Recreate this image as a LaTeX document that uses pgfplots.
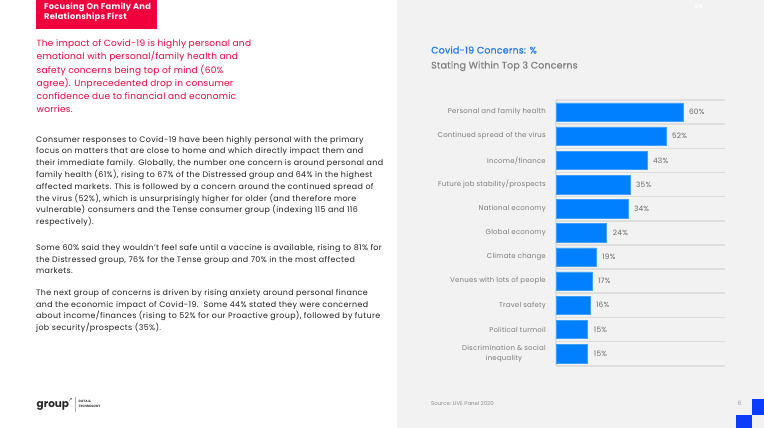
\documentclass[border=0pt]{standalone}
\usepackage{pgfplots}
\pgfplotsset{compat=1.18}
\usepackage{fontspec}
\setmainfont{Poppins}
\newfontfamily\pmed{Poppins}[FakeBold=0.5, LetterSpace=2]
\newfontfamily\redfont{Poppins}[LetterSpace=3]
\newfontfamily\bodyfont{Poppins}[LetterSpace=4.5]
\newfontfamily\lblfont{Poppins}[LetterSpace=3]
\newfontfamily\tagfont{Poppins}[LetterSpace=3]
\newfontfamily\symfont{DejaVu Sans}
\definecolor{crim}{RGB}{240,0,60}
\definecolor{barblue}{RGB}{0,128,255}
\definecolor{titleblue}{RGB}{31,120,240}
\definecolor{panel}{RGB}{242,242,242}
\definecolor{gridc}{RGB}{222,222,222}
\definecolor{lblgrey}{RGB}{125,125,125}
\definecolor{valgrey}{RGB}{105,105,105}
\definecolor{bodytxt}{RGB}{30,30,30}
\definecolor{logoblue}{RGB}{10,60,255}

\begin{document}
\begin{tikzpicture}
\path[use as bounding box, fill=white] (0,0) rectangle (764bp,428bp);
\fill[panel] (397bp,0) rectangle (764bp,428bp);

\begin{scope}[yshift=428bp]
  % header tag
  \fill[crim] (36bp,0) rectangle (157bp,-29bp);
  \node[anchor=base west, inner sep=0, text=white, font=\tagfont\fontsize{8.3}{10}\selectfont\bfseries] at (44bp,-10bp) {Focusing On Family And};
  \node[anchor=base west, inner sep=0, text=white, font=\tagfont\fontsize{8.3}{10}\selectfont\bfseries] at (44bp,-20bp) {Relationships First};

  % intro (red)
  \node[anchor=north west, inner sep=0, align=left, text=crim, font=\redfont\fontsize{9}{13.3}\selectfont] at (36.5bp,-39.6bp)
    {The impact of Covid-19 is highly personal and\\
     emotional with personal/family health and\\
     safety concerns being top of mind (60\%\\
     agree). Unprecedented drop in consumer\\
     confidence due to financial and economic\\
     worries.};

  % body text
  \node[anchor=north west, inner sep=0, align=left, text=bodytxt, font=\bodyfont\fontsize{7.95}{11.8}\selectfont] at (36bp,-136bp)
    {Consumer responses to Covid-19 have been highly personal with the primary\\
     focus on matters that are close to home and which directly impact them and\\
     their immediate family. Globally, the number one concern is around personal and\\
     family health (61\%), rising to 67\% of the Distressed group and 64\% in the highest\\
     affected markets. This is followed by a concern around the continued spread of\\
     the virus (52\%), which is unsurprisingly higher for older (and therefore more\\
     vulnerable) consumers and the Tense consumer group (indexing 115 and 116\\
     respectively).};
  \node[anchor=north west, inner sep=0, align=left, text=bodytxt, font=\bodyfont\fontsize{7.95}{11.8}\selectfont] at (36bp,-244bp)
    {Some 60\% said they wouldn’t feel safe until a vaccine is available, rising to 81\% for\\
     the Distressed group, 76\% for the Tense group and 70\% in the most affected\\
     markets.};
  \node[anchor=north west, inner sep=0, align=left, text=bodytxt, font=\bodyfont\fontsize{7.95}{11.8}\selectfont] at (36bp,-289bp)
    {The next group of concerns is driven by rising anxiety around personal finance\\
     and the economic impact of Covid-19.\ \ Some 44\% stated they were concerned\\
     about income/finances (rising to 52\% for our Proactive group), followed by future\\
     job security/prospects (35\%).};

  % chart titles
  \node[anchor=base west, inner sep=0, text=titleblue, font=\pmed\fontsize{9.5}{10}\selectfont] at (431bp,-53.5bp) {Covid-19 Concerns: \%};
  \node[anchor=base west, inner sep=0, text=black!50, font=\pmed\fontsize{9.5}{10}\selectfont] at (431bp,-68.5bp) {Stating Within Top 3 Concerns};

  % top right tag
  \node[inner sep=0, text=white, font=\fontsize{5.5}{6}\selectfont\bfseries] at (699bp,-7bp) {UK};

  % footer
  \node[anchor=base west, inner sep=0, text=black!85, font=\fontsize{10.5}{12}\selectfont\bfseries] at (36.5bp,-407bp) {group};
  \node[inner sep=0, text=black!85, font=\symfont\fontsize{5}{5}\selectfont] at (70.5bp,-400.5bp) {↗};
  \draw[black!30, line width=0.4bp] (75.5bp,-397bp) -- (75.5bp,-412bp);
  \node[anchor=base west, inner sep=0, text=black!80, font=\fontsize{3.2}{4}\selectfont\bfseries] at (78.5bp,-402.5bp) {DATA \&};
  \node[anchor=base west, inner sep=0, text=black!80, font=\fontsize{3.2}{4}\selectfont\bfseries] at (78.5bp,-407bp) {TECHNOLOGY};
  \node[anchor=base west, inner sep=0, text=black!45, font=\fontsize{5.4}{6}\selectfont] at (431bp,-405bp) {Source: LIVE Panel 2020};
  \node[anchor=base west, inner sep=0, text=black!40, font=\fontsize{6}{6}\selectfont] at (737.5bp,-405.5bp) {6};
  \fill[logoblue] (752bp,-399bp) rectangle (764bp,-415bp);
  \fill[logoblue] (736bp,-415bp) rectangle (752bp,-428bp);
\end{scope}

\begin{axis}[
  at={(556bp,62.3bp)}, anchor=south west,
  scale only axis, width=169bp, height=265.7bp,
  xbar, bar width=18.5bp,
  xmin=0, xmax=80,
  ymin=-0.5, ymax=10.5, y dir=reverse,
  axis x line=none,
  axis y line*=left,
  y axis line style={draw=gridc, line width=1.6bp, -},
  ytick={0,...,10},
  yticklabels={Personal and family health, Continued spread of the virus, Income/finance, Future job stability/prospects, National economy, Global economy, Climate change, Venues with lots of people, Travel safety, Political turmoil, {Discrimination \& social\\inequality}},
  major tick length=0pt,
  yticklabel style={font=\lblfont\fontsize{7}{10.6}\selectfont, text=lblgrey, align=center, inner sep=0pt, xshift=-10bp},
  extra y ticks={-0.5,0.5,...,10.5},
  extra y tick labels={},
  extra y tick style={grid=major, major grid style={draw=gridc, line width=1.6bp}},
  point meta=x,
  /pgf/number format/assume math mode=true,
  nodes near coords={\pgfmathprintnumber{\pgfplotspointmeta}\%},
  every node near coord/.append style={font=\lblfont\fontsize{7.4}{8}\selectfont, text=valgrey, anchor=west, inner sep=0pt, xshift=6bp},
  clip=false,
]
\addplot[fill=barblue, draw=barblue!75!white, line width=0.5bp]
  coordinates {(60,0) (52,1) (43,2) (35,3) (34,4) (24,5) (19,6) (17,7) (16,8) (15,9) (15,10)};
\end{axis}
\end{tikzpicture}
\end{document}
